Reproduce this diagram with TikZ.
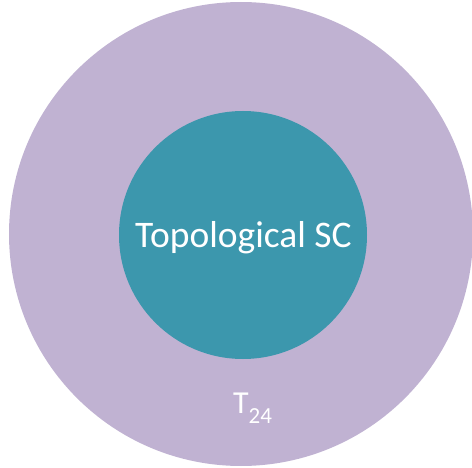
\documentclass[tikz,border=0pt]{standalone}
\usepackage{fontspec}
\setmainfont{Carlito}
\usetikzlibrary{positioning}
\definecolor{lavender}{HTML}{C0B2D2}
\definecolor{tealblue}{HTML}{3C97AD}
\tikzset{
  disc/.style={circle, inner sep=0pt},
  lbl/.style={text=white, inner sep=0pt, anchor=base}
}
\begin{document}
\begin{tikzpicture}[x=1pt, y=1pt]
    \useasboundingbox (0, 0) rectangle (472, 467);
    \node [disc, fill=lavender, minimum size=464pt] (outer) at (241, 233) {};
    \node [disc, fill=tealblue, minimum size=248pt] (inner) at (243, 232) {};
    \node [lbl, font=\fontsize{37.5}{37.5}\selectfont] (topo) at (243.5, 220) {Topological SC};
    \node [lbl, font=\fontsize{32}{32}\selectfont] (tlabel) at (252.5, 54) {T\raisebox{-10pt}{\fontsize{23}{23}\selectfont 24}};
\end{tikzpicture}
\end{document}
